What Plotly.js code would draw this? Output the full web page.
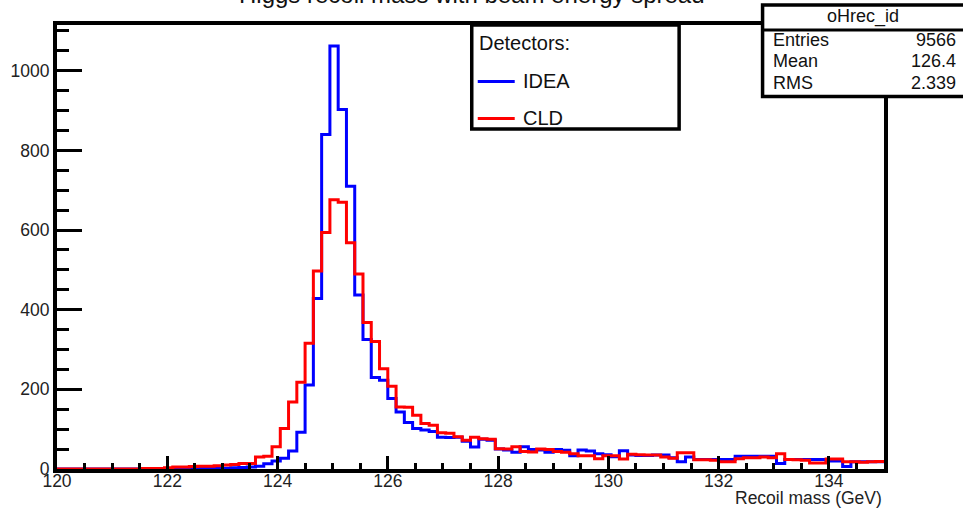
<!DOCTYPE html>
<html>
<head>
<meta charset="utf-8">
<script src="https://cdn.plot.ly/plotly-3.0.1.min.js"></script>
<style>
html,body{margin:0;padding:0;background:#fff;overflow:hidden;}
#chart{width:963px;height:509px;}
</style>
</head>
<body>
<div id="chart"></div>
<script>
// Histogram binning (axis categories)
const binLow = 120, binWidth = 0.15, nBins = 100;

// Bin contents
const ideaCounts = [
  0,0,0,0,0,0,0,0,0,0,
  0,0,0,0,0,0,1,1,1,2,
  2,3,4,5,7,13,20,27,45,92,
  211,428,840,1062,903,710,437,325,230,223,
  177,143,117,102,98,94,80,79,80,70,
  55,75,72,50,48,42,56,49,48,42,
  49,47,33,48,45,38,36,31,46,35,
  34,34,35,35,28,18,30,24,24,24,
  24,24,32,32,32,32,32,14,24,24,
  24,24,24,20,20,6,18,18,18,18
];
const cldCounts = [
  0,0,0,0,0,0,0,0,0,0,
  1,1,1,3,5,5,6,7,7,8,
  10,11,14,14,30,32,56,102,168,218,
  316,497,594,676,670,568,490,368,320,252,
  208,156,155,135,114,110,91,90,81,72,
  80,76,75,51,50,56,44,43,50,49,
  44,42,38,33,33,26,33,33,25,37,
  36,35,35,30,27,41,41,23,23,22,
  18,18,26,28,28,30,28,38,24,23,
  22,15,15,25,25,18,18,17,18,19
];
const seriesNames = ["IDEA", "CLD"];
const seriesColors = ["#0000ff", "#ff0000"];
const xTickVals = [120,122,124,126,128,130,132,134];
const yTickVals = [0,200,400,600,800,1000];
const statsTitle = "oHrec_id";
const statsLabels = ["Entries", "Mean", "RMS"];
const statsValues = ["9566", "126.4", "2.339"];
const chartTitle = "Higgs recoil mass with beam energy spread";
const xTitle = "Recoil mass (GeV)";
const legendHeader = "Detectors:";

function stepTrace(counts, name, color) {
  const xs = [], ys = [];
  for (let i = 0; i < counts.length; i++) {
    xs.push(binLow + i * binWidth);
    ys.push(counts[i]);
  }
  xs.push(binLow + counts.length * binWidth);
  ys.push(counts[counts.length - 1]);
  return {
    type: "scatter", mode: "lines", x: xs, y: ys, name: name,
    line: {shape: "hv", color: color, width: 3},
    hoverinfo: "skip", showlegend: false, cliponaxis: true
  };
}

const traces = [
  stepTrace(ideaCounts, seriesNames[0], seriesColors[0]),
  stepTrace(cldCounts, seriesNames[1], seriesColors[1])
];

const FONT = "Liberation Sans, Arial, Helvetica, sans-serif";
const L = 57, R = 884.5, T = 24.5, B = 469;
const W = 963, H = 509;
const px2x = p => (p - L) / (R - L);
const px2y = p => (B - p) / (B - T);

const shapes = [
  // legend box
  {type:"rect", xref:"paper", yref:"paper", x0:px2x(472), x1:px2x(679.5), y0:px2y(128.5), y1:px2y(24.5),
   line:{color:"#000", width:3.5}, fillcolor:"#fff", layer:"above"},
  // legend samples
  {type:"line", xref:"paper", yref:"paper", x0:px2x(478), x1:px2x(515), y0:px2y(81), y1:px2y(81),
   line:{color:seriesColors[0], width:3}},
  {type:"line", xref:"paper", yref:"paper", x0:px2x(478), x1:px2x(515), y0:px2y(118), y1:px2y(118),
   line:{color:seriesColors[1], width:3}},
  // stats box
  {type:"rect", xref:"paper", yref:"paper", x0:px2x(763), x1:px2x(975), y0:px2y(96), y1:px2y(4.5),
   line:{color:"#000", width:3.5}, fillcolor:"#fff", layer:"above"},
  {type:"line", xref:"paper", yref:"paper", x0:px2x(763), x1:px2x(975), y0:px2y(29.5), y1:px2y(29.5),
   line:{color:"#000", width:3}}
];

const annotations = [
  {xref:"paper", yref:"paper", x:px2x(472), y:px2y(-6), text:chartTitle, showarrow:false,
   xanchor:"center", yanchor:"middle", font:{family:FONT, size:24, color:"#111"}},
  {xref:"paper", yref:"paper", x:px2x(477), y:px2y(43), text:legendHeader, showarrow:false,
   xanchor:"left", yanchor:"middle", font:{family:FONT, size:20, color:"#111"}},
  {xref:"paper", yref:"paper", x:px2x(521), y:px2y(81), text:seriesNames[0], showarrow:false,
   xanchor:"left", yanchor:"middle", font:{family:FONT, size:20, color:"#111"}},
  {xref:"paper", yref:"paper", x:px2x(521), y:px2y(117.5), text:seriesNames[1], showarrow:false,
   xanchor:"left", yanchor:"middle", font:{family:FONT, size:20, color:"#111"}},
  {xref:"paper", yref:"paper", x:px2x(863), y:px2y(16), text:statsTitle, showarrow:false,
   xanchor:"center", yanchor:"middle", font:{family:FONT, size:18, color:"#111"}},
  {xref:"paper", yref:"paper", x:px2x(885), y:px2y(498.5), text:xTitle, showarrow:false,
   xanchor:"right", yanchor:"middle", font:{family:FONT, size:17.5, color:"#222"}}
];
const statsRowY = [39.5, 61, 82.5];
for (let i = 0; i < statsLabels.length; i++) {
  annotations.push({xref:"paper", yref:"paper", x:px2x(771), y:px2y(statsRowY[i]), text:statsLabels[i],
    showarrow:false, xanchor:"left", yanchor:"middle", font:{family:FONT, size:18, color:"#111"}});
  annotations.push({xref:"paper", yref:"paper", x:px2x(959), y:px2y(statsRowY[i]), text:statsValues[i],
    showarrow:false, xanchor:"right", yanchor:"middle", font:{family:FONT, size:18, color:"#111"}});
}

const layout = {
  width: W, height: H,
  margin: {l: L, r: W - R, t: T, b: H - B, pad: 0},
  paper_bgcolor: "#fff", plot_bgcolor: "#fff",
  showlegend: false,
  xaxis: {
    range: [binLow, binLow + nBins * binWidth], tickvals: xTickVals, ticktext: xTickVals.map(String),
    ticks: "inside", ticklen: 13, tickwidth: 3, tickcolor: "#000",
    minor: {dtick: 0.5, ticks: "inside", ticklen: 6, tickwidth: 3, tickcolor: "#000", showgrid: false},
    showline: true, linecolor: "#000", linewidth: 4, mirror: true,
    showgrid: false, zeroline: false, ticklabelstandoff: -7,
    tickfont: {family: FONT, size: 17.5, color: "#222"}
  },
  yaxis: {
    range: [0, 1115], tickvals: yTickVals, ticktext: yTickVals.map(String),
    ticks: "inside", ticklen: 25, tickwidth: 3, tickcolor: "#000",
    minor: {dtick: 50, ticks: "inside", ticklen: 12, tickwidth: 3, tickcolor: "#000", showgrid: false},
    showline: true, linecolor: "#000", linewidth: 4, mirror: true,
    showgrid: false, zeroline: false,
    tickfont: {family: FONT, size: 17.5, color: "#222"}
  },
  shapes: shapes,
  annotations: annotations
};

Plotly.newPlot("chart", traces, layout, {staticPlot: true, displayModeBar: false});
</script>
</body>
</html>
